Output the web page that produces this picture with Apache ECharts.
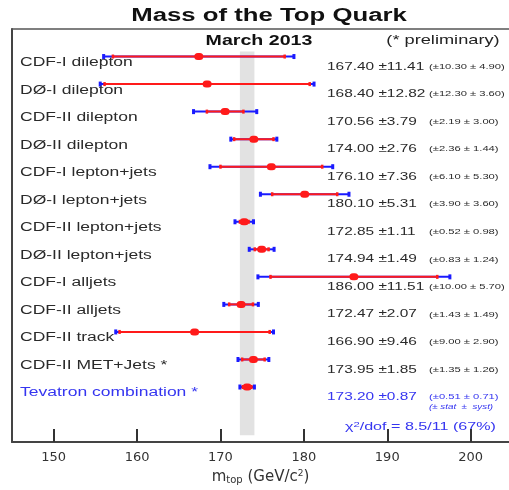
<!DOCTYPE html>
<html>
<head>
<meta charset="utf-8">
<script src="https://cdn.jsdelivr.net/npm/echarts@6/dist/echarts.min.js"></script>
<style>
  html, body { margin: 0; padding: 0; background: #fff; }
  #chart { width: 509px; height: 490px; }
</style>
</head>
<body>
<div id="chart"></div>
<script>
// measurements, top to bottom
const rowLabels = [
  'CDF-I dilepton', 'DØ-I dilepton', 'CDF-II dilepton', 'DØ-II dilepton',
  'CDF-I lepton+jets', 'DØ-I lepton+jets', 'CDF-II lepton+jets', 'DØ-II lepton+jets',
  'CDF-I alljets', 'CDF-II alljets', 'CDF-II track', 'CDF-II MET+Jets *',
  'Tevatron combination *'
]
const mass = [167.40, 168.40, 170.56, 174.00, 176.10, 180.10, 172.85, 174.94, 186.00, 172.47, 166.90, 173.95, 173.20]
const totErr = [11.41, 12.82, 3.79, 2.76, 7.36, 5.31, 1.11, 1.49, 11.51, 2.07, 9.46, 1.85, 0.87]
const statErr = [10.30, 12.30, 2.19, 2.36, 6.10, 3.90, 0.52, 0.83, 10.00, 1.43, 9.00, 1.35, 0.51]
const systErr = [4.90, 3.60, 3.00, 1.44, 5.30, 3.60, 0.98, 1.24, 5.70, 1.49, 2.90, 1.26, 0.71]
const xTicks = [150, 160, 170, 180, 190, 200]

const FONT = '"Liberation Sans", Arial, sans-serif'
const SX = 1.4 // the source picture is stretched sideways
const DARK = '#2a2a2a'
const BLUE_TXT = '#3535f0'
const RED = '#ff1a1a'
const BLUE = '#1a1aff'

const comb = rowLabels.length - 1

function renderRow(params, api) {
  const i = params.dataIndex
  const m = api.value(0), row = api.value(1)
  const tot = api.value(2), st = api.value(3), sy = api.value(4)
  const c = api.coord([m, row])
  const lo = api.coord([m - tot, row]), hi = api.coord([m + tot, row])
  const sl = api.coord([m - st, row]), sh = api.coord([m + st, row])
  const y = c[1]
  const x0 = params.coordSys.x
  const isComb = i === comb
  const col = isComb ? BLUE_TXT : DARK

  const cap = (p, w, h, color) => ({
    type: 'rect',
    shape: { x: p[0] - w / 2, y: y - h / 2, width: w, height: h },
    style: { fill: color }
  })

  const children = [
    { type: 'line', shape: { x1: lo[0], y1: y, x2: hi[0], y2: y }, style: { stroke: BLUE, lineWidth: 2 } },
    { type: 'line', shape: { x1: sl[0], y1: y, x2: sh[0], y2: y }, style: { stroke: RED, lineWidth: 2 } },
    cap(lo, 3, 5, BLUE), cap(hi, 3, 5, BLUE),
    cap(sl, 2.5, 4, RED), cap(sh, 2.5, 4, RED),
    {
      type: 'rect',
      shape: { x: c[0] - 4.5, y: y - 3.5, width: 9, height: 7, r: 3.5 },
      style: { fill: RED }
    },
    {
      type: 'text', x: x0 + 8, y: y + 6, scaleX: SX,
      style: { text: rowLabels[i], font: '12.5px ' + FONT, fill: col, align: 'left', verticalAlign: 'middle' }
    },
    {
      type: 'text', x: x0 + 315, y: y + 10, scaleX: SX,
      style: { text: m.toFixed(2) + ' \u00b1' + tot.toFixed(2), font: '11px ' + FONT, fill: col, align: 'left', verticalAlign: 'middle' }
    },
    {
      type: 'text', x: x0 + 417, y: y + 10, scaleX: SX,
      style: { text: '(\u00b1' + st.toFixed(2) + ' \u00b1 ' + sy.toFixed(2) + ')', font: '8px ' + FONT, fill: col, align: 'left', verticalAlign: 'middle' }
    }
  ]
  if (isComb) {
    children.push({
      type: 'text', x: x0 + 417, y: y + 20, scaleX: SX,
      style: { text: '(\u00b1 stat  \u00b1  syst)', font: 'italic 7px ' + FONT, fill: col, align: 'left', verticalAlign: 'middle' }
    })
  }
  return { type: 'group', children }
}

function renderBand(params, api) {
  const a = api.coord([api.value(0), -0.18])
  const b = api.coord([api.value(1), 13.75])
  return {
    type: 'rect',
    shape: { x: a[0], y: a[1], width: b[0] - a[0], height: b[1] - a[1] },
    style: { fill: '#e2e2e2' }
  }
}

const chart = echarts.init(document.getElementById('chart'), null, { renderer: 'canvas' })

const xName = {
  color: '#333',
  fontFamily: '"DejaVu Sans", sans-serif',
  fontSize: 15,
  rich: {
    sub: { fontSize: 10, verticalAlign: 'bottom', padding: [6, 0, 0, 0], fontFamily: '"DejaVu Sans", sans-serif', color: '#333' },
    sup: { fontSize: 9, verticalAlign: 'top', padding: [0, 0, 6, 0], fontFamily: '"DejaVu Sans", sans-serif', color: '#333' }
  }
}

chart.setOption({
  animation: false,
  grid: { left: 12, top: 29, right: 0, bottom: 41 },
  xAxis: [
    {
      type: 'value',
      position: 'bottom',
      min: 145,
      max: 204.6,
      axisLine: { show: true, onZero: false, lineStyle: { color: '#444', width: 2 } },
      axisTick: {
        show: true, inside: true, length: 13,
        customValues: xTicks,
        lineStyle: { color: '#333', width: 2 }
      },
      axisLabel: {
        customValues: xTicks,
        margin: 9,
        color: '#333',
        fontFamily: '"DejaVu Sans", sans-serif',
        fontSize: 13
      },
      splitLine: { show: false },
      name: 'm{sub|top} (GeV/c{sup|2})',
      nameLocation: 'middle',
      nameGap: 24,
      nameTextStyle: xName
    },
    {
      // top frame line only
      type: 'value',
      position: 'top',
      min: 145,
      max: 204.6,
      axisLine: { show: true, onZero: false, lineStyle: { color: '#555', width: 1.5 } },
      axisTick: { show: false },
      axisLabel: { show: false },
      splitLine: { show: false }
    }
  ],
  yAxis: {
    type: 'value',
    inverse: true,
    min: -1,
    max: 14,
    axisLine: { show: true, onZero: false, lineStyle: { color: '#444', width: 2 } },
    axisTick: { show: false },
    axisLabel: { show: false },
    splitLine: { show: false }
  },
  graphic: [
    {
      type: 'text', x: 269, y: 16, scaleX: 1.43,
      style: { text: 'Mass of the Top Quark', font: 'bold 18px ' + FONT, fill: '#111', align: 'center', verticalAlign: 'middle' }
    },
    {
      type: 'text', x: 259, y: 41, scaleX: SX,
      style: { text: 'March 2013', font: 'bold 14px ' + FONT, fill: '#111', align: 'center', verticalAlign: 'middle' }
    },
    {
      type: 'text', x: 443, y: 40, scaleX: SX,
      style: { text: '(* preliminary)', font: '13px ' + FONT, fill: '#222', align: 'center', verticalAlign: 'middle' }
    },
    {
      type: 'text', x: 345, y: 427, scaleX: SX,
      style: {
        text: '\u03c7{sup|2}/dof = 8.5/11 (67%)',
        font: '11.5px ' + FONT, fill: BLUE_TXT, align: 'left', verticalAlign: 'middle',
        rich: { sup: { font: '8px ' + FONT, fill: BLUE_TXT, verticalAlign: 'top', padding: [0, 0, 5, 0] } }
      }
    }
  ],
  series: [
    {
      name: 'combination band',
      type: 'custom',
      z: 1,
      silent: true,
      renderItem: renderBand,
      data: [[mass[comb] - totErr[comb], mass[comb] + totErr[comb]]]
    },
    {
      name: 'measurements',
      type: 'custom',
      z: 2,
      clip: false,
      renderItem: renderRow,
      data: rowLabels.map((_, i) => [mass[i], i, totErr[i], statErr[i], systErr[i]])
    }
  ]
})
</script>
</body>
</html>
